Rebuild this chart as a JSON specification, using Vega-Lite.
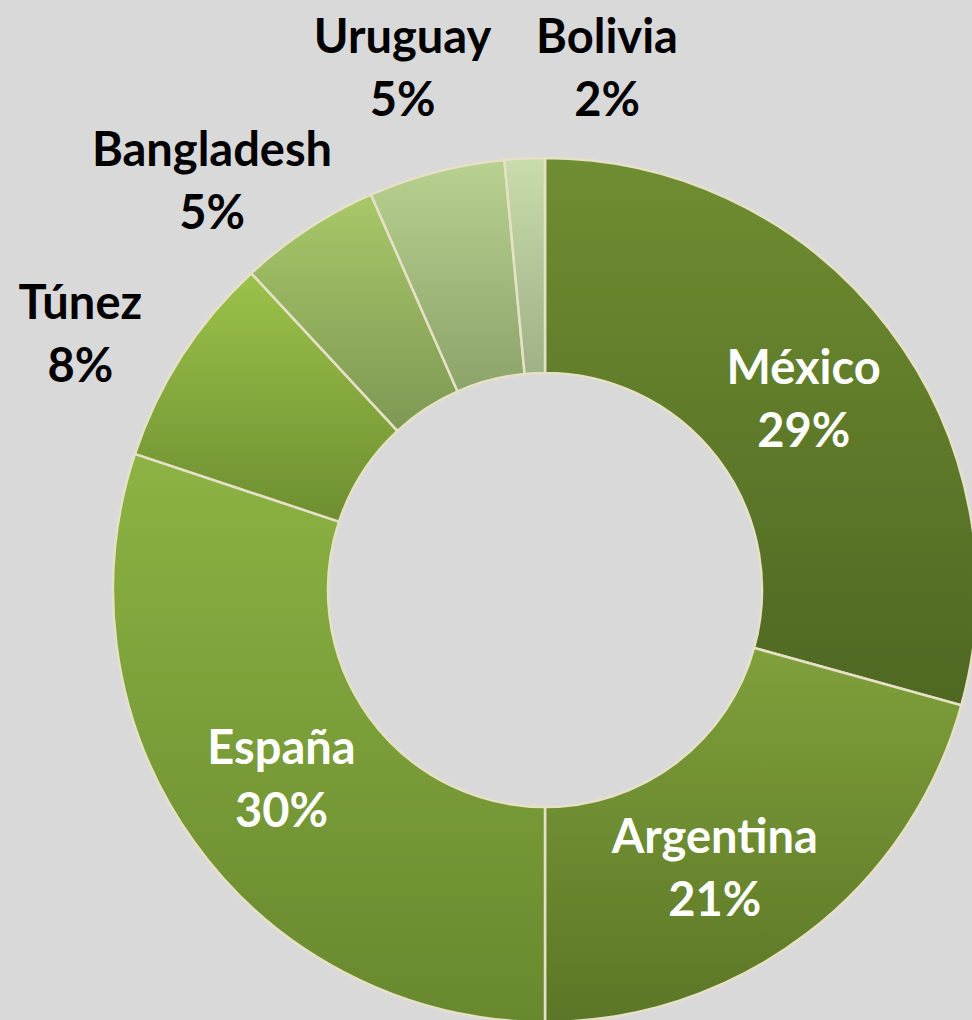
{
  "$schema": "https://vega.github.io/schema/vega-lite/v6.json",
  "width": 854,
  "height": 860,
  "autosize": {"type": "none"},
  "padding": {"left": 118, "top": 160, "right": 0, "bottom": 0},
  "background": "#d9d9d9",
  "config": {"view": {"stroke": null}, "text": {"font": "Lato", "fontWeight": "bold", "fontSize": 47, "lineBreak": "\n", "lineHeight": 63, "align": "center", "baseline": "middle"}},
  "data": {
    "values": [
      {"idx": 1, "country": "México", "value": 29.3, "label": "México\n29%"},
      {"idx": 2, "country": "Argentina", "value": 20.7, "label": "Argentina\n21%"},
      {"idx": 3, "country": "España", "value": 30.1, "label": "España\n30%"},
      {"idx": 4, "country": "Túnez", "value": 8.0, "label": "Túnez\n8%"},
      {"idx": 5, "country": "Bangladesh", "value": 5.3, "label": "Bangladesh\n5%"},
      {"idx": 6, "country": "Uruguay", "value": 5.1, "label": "Uruguay\n5%"},
      {"idx": 7, "country": "Bolivia", "value": 1.5, "label": "Bolivia\n2%"}
    ]
  },
  "encoding": {
    "theta": {"field": "value", "type": "quantitative", "stack": true},
    "order": {"field": "idx", "type": "quantitative", "sort": "ascending"}
  },
  "layer": [
    {
      "mark": {"type": "arc", "outerRadius": 432, "innerRadius": 217, "stroke": "#e6e0c6", "strokeWidth": 2.5},
      "encoding": {
        "fill": {
          "condition": [
            {"test": "datum.country === 'México'", "value": {"gradient": "linear", "x1": 0, "y1": 0, "x2": 0, "y2": 1, "stops": [{"offset": 0, "color": "#6f8d31"}, {"offset": 1, "color": "#4e6822"}]}},
            {"test": "datum.country === 'Argentina'", "value": {"gradient": "linear", "x1": 0, "y1": 0, "x2": 0, "y2": 1, "stops": [{"offset": 0, "color": "#7fa03b"}, {"offset": 1, "color": "#5b7626"}]}},
            {"test": "datum.country === 'España'", "value": {"gradient": "linear", "x1": 0, "y1": 0, "x2": 0, "y2": 1, "stops": [{"offset": 0, "color": "#8cb343"}, {"offset": 1, "color": "#68882e"}]}},
            {"test": "datum.country === 'Túnez'", "value": {"gradient": "linear", "x1": 0, "y1": 0, "x2": 0, "y2": 1, "stops": [{"offset": 0, "color": "#9bc24a"}, {"offset": 1, "color": "#6e8e30"}]}},
            {"test": "datum.country === 'Bangladesh'", "value": {"gradient": "linear", "x1": 0, "y1": 0, "x2": 0, "y2": 1, "stops": [{"offset": 0, "color": "#a8c868"}, {"offset": 1, "color": "#7d9854"}]}},
            {"test": "datum.country === 'Uruguay'", "value": {"gradient": "linear", "x1": 0, "y1": 0, "x2": 0, "y2": 1, "stops": [{"offset": 0, "color": "#b8d190"}, {"offset": 1, "color": "#8ca36a"}]}},
            {"test": "datum.country === 'Bolivia'", "value": {"gradient": "linear", "x1": 0, "y1": 0, "x2": 0, "y2": 1, "stops": [{"offset": 0, "color": "#c9dcab"}, {"offset": 1, "color": "#9fb186"}]}}
          ],
          "value": "#7fa03b"
        }
      }
    },
    {
      "mark": {"type": "text", "radius": 325, "dx": 0, "dy": -23, "fill": "#ffffff"},
      "encoding": {"text": {"condition": {"test": "datum.country === 'México'", "field": "label", "type": "nominal"}, "value": ""}}
    },
    {
      "mark": {"type": "text", "radius": 325, "dx": -27, "dy": -10, "fill": "#ffffff"},
      "encoding": {"text": {"condition": {"test": "datum.country === 'Argentina'", "field": "label", "type": "nominal"}, "value": ""}}
    },
    {
      "mark": {"type": "text", "radius": 325, "dx": 0, "dy": -30, "fill": "#ffffff"},
      "encoding": {"text": {"condition": {"test": "datum.country === 'España'", "field": "label", "type": "nominal"}, "value": ""}}
    },
    {
      "mark": {"type": "text", "radius": 530, "dx": -19, "dy": 2, "fill": "#000000"},
      "encoding": {"text": {"condition": {"test": "datum.country === 'Túnez'", "field": "label", "type": "nominal"}, "value": ""}}
    },
    {
      "mark": {"type": "text", "radius": 530, "dx": -42, "dy": 5, "fill": "#000000"},
      "encoding": {"text": {"condition": {"test": "datum.country === 'Bangladesh'", "field": "label", "type": "nominal"}, "value": ""}}
    },
    {
      "mark": {"type": "text", "radius": 530, "dx": -9, "dy": -38, "fill": "#000000"},
      "encoding": {"text": {"condition": {"test": "datum.country === 'Uruguay'", "field": "label", "type": "nominal"}, "value": ""}}
    },
    {
      "mark": {"type": "text", "radius": 530, "dx": 87, "dy": -22, "fill": "#000000"},
      "encoding": {"text": {"condition": {"test": "datum.country === 'Bolivia'", "field": "label", "type": "nominal"}, "value": ""}}
    }
  ]
}
